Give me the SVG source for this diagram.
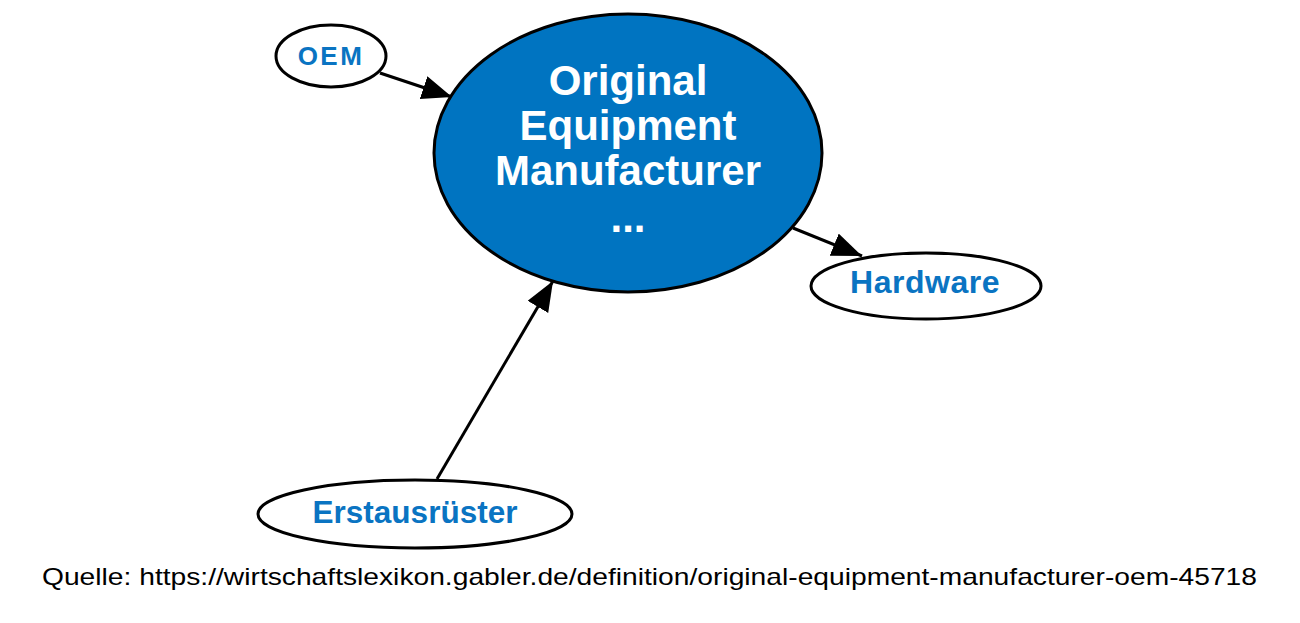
<svg xmlns="http://www.w3.org/2000/svg" width="1300" height="623" viewBox="0 0 1300 623">
<style>
.node ellipse{stroke:#000;stroke-width:3}
.lbl{font-family:"Liberation Sans",Arial,sans-serif;font-weight:bold;fill:#0a74c2;text-anchor:middle}
.edge{stroke:#000;stroke-width:3;fill:none;marker-end:url(#ah)}
</style>
<defs>
<marker id="ah" markerUnits="userSpaceOnUse" markerWidth="34" markerHeight="26" refX="30" refY="12" orient="auto">
<path d="M0,0 L30,12 L0,24 Z" fill="#000"/>
</marker>
</defs>
<rect width="1300" height="623" fill="#fff"/>
<g id="edges">
<path class="edge" d="M380,73 L452,97"/>
<path class="edge" d="M793,228 L862,256"/>
<path class="edge" d="M437,479 L553,281"/>
</g>
<g id="n-oem" class="node">
<ellipse cx="331" cy="56" rx="55" ry="31" fill="#fff"/>
<text class="lbl" x="331" y="65" font-size="26" letter-spacing="2.5">OEM</text>
</g>
<g id="n-main" class="node">
<ellipse cx="628" cy="153" rx="194" ry="139" fill="#0074c1"/>
<g font-family="Liberation Sans,Arial,sans-serif" font-weight="bold" font-size="42" fill="#fff" text-anchor="middle">
<text x="628" y="95">Original</text>
<text x="628" y="140">Equipment</text>
<text x="628" y="185">Manufacturer</text>
<text x="628" y="232">...</text>
</g>
</g>
<g id="n-hardware" class="node">
<ellipse cx="926" cy="286" rx="115" ry="33" fill="#fff"/>
<text class="lbl" x="925" y="293" font-size="32" letter-spacing="0.5">Hardware</text>
</g>
<g id="n-erst" class="node">
<ellipse cx="415" cy="514" rx="157" ry="34" fill="#fff"/>
<text class="lbl" x="415" y="523" font-size="31.5">Erstausrüster</text>
</g>
<text x="42" y="585" font-family="Liberation Sans,Arial,sans-serif" font-size="24" fill="#000" textLength="1215" lengthAdjust="spacingAndGlyphs">Quelle: https://wirtschaftslexikon.gabler.de/definition/original-equipment-manufacturer-oem-45718</text>
</svg>
